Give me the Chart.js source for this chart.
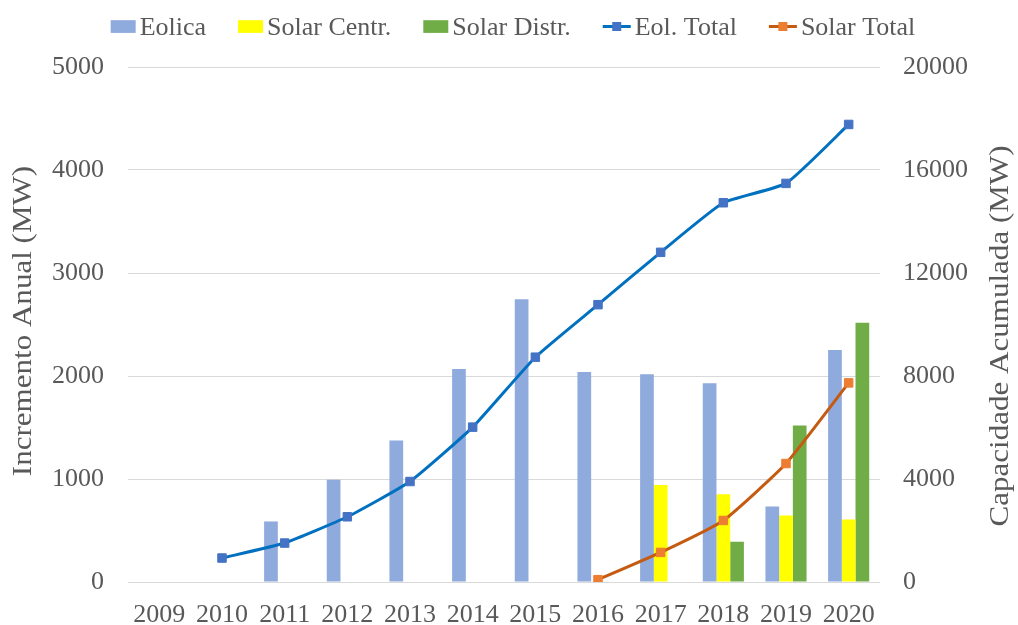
<!DOCTYPE html>
<html>
<head>
<meta charset="utf-8">
<script src="https://cdn.jsdelivr.net/npm/chart.js@4.4.1/dist/chart.umd.min.js"></script>
<style>
html,body{margin:0;padding:0;background:#ffffff;}
#wrap{width:1018px;height:625px;}
</style>
</head>
<body>
<div id="wrap"><canvas id="c" width="1018" height="625"></canvas></div>
<script>
const years = ['2009','2010','2011','2012','2013','2014','2015','2016','2017','2018','2019','2020'];
const eolica      = [null, null, 588, 992, 1373, 2069, 2745, 2040, 2017, 1930, 733, 2253];
const solarCentr  = [null, null, null, null, null, null, null, null, 941, 853, 646, 607];
const solarDistr  = [null, null, null, null, null, null, null, null, null, 391, 1519, 2518];
const eolTotal    = [null, 931, 1513, 2533, 3903, 6014, 8730, 10770, 12803, 14728, 15480, 17769];
const solarTotal  = [null, null, null, null, null, null, null, 89, 1149, 2390, 4601, 7732];
const leftAxis  = {min: 0, max: 5000, step: 1000, title: 'Incremento Anual (MW)'};
const rightAxis = {min: 0, max: 20000, step: 4000, title: 'Capacidade Acumulada (MW)'};

const FONT = '"Liberation Serif", "Times New Roman", serif';
const TXT = '#595959';
Chart.defaults.font.family = FONT;
Chart.defaults.color = TXT;

function drawRotatedTitle(ctx, text, cx, cy) {
  ctx.save();
  ctx.font = '27px ' + FONT;
  ctx.fillStyle = TXT;
  ctx.textAlign = 'center';
  ctx.textBaseline = 'middle';
  ctx.translate(cx, cy);
  ctx.rotate(-Math.PI / 2);
  ctx.scale(1.15, 1);
  ctx.fillText(text, 0, 0);
  ctx.restore();
}

const customLegend = {
  id: 'customLegend',
  afterDraw(chart) {
    const ctx = chart.ctx;
    ctx.save();
    ctx.font = '26px ' + FONT;
    ctx.textBaseline = 'alphabetic';
    ctx.textAlign = 'left';
    const items = chart.data.datasets.map(ds => ({
      ds, w: ds.type === 'line' ? 28 : 25, tw: ctx.measureText(ds.label).width
    }));
    const gapIT = 4, gapItem = 32;
    let total = 0;
    items.forEach((it, i) => { total += it.w + gapIT + it.tw + (i < items.length - 1 ? gapItem : 0); });
    let x = chart.width / 2 + 4 - total / 2;
    const cy = 26.5;
    items.forEach(it => {
      if (it.ds.type === 'line') {
        ctx.strokeStyle = it.ds.borderColor;
        ctx.lineWidth = 3;
        ctx.beginPath(); ctx.moveTo(x, cy); ctx.lineTo(x + it.w, cy); ctx.stroke();
        ctx.fillStyle = it.ds.pointBackgroundColor;
        ctx.fillRect(x + it.w / 2 - 4.5, cy - 4.5, 9, 9);
      } else {
        ctx.fillStyle = it.ds.backgroundColor;
        ctx.fillRect(x, cy - 6.3, it.w, 12.7);
      }
      x += it.w + gapIT;
      ctx.fillStyle = TXT;
      ctx.fillText(it.ds.label, x, 35);
      x += it.tw + gapItem;
    });
    ctx.restore();
    drawRotatedTitle(ctx, leftAxis.title, 24, 321);
    drawRotatedTitle(ctx, rightAxis.title, 1001, 336);
  }
};

new Chart(document.getElementById('c'), {
  type: 'bar',
  data: {
    labels: years,
    datasets: [
      {type: 'bar', label: 'Eolica', data: eolica, backgroundColor: '#8FAADC', yAxisID: 'y', order: 1},
      {type: 'bar', label: 'Solar Centr.', data: solarCentr, backgroundColor: '#FFFF00', yAxisID: 'y', order: 1},
      {type: 'bar', label: 'Solar Distr.', data: solarDistr, backgroundColor: '#70AD47', yAxisID: 'y', order: 1},
      {type: 'line', label: 'Eol. Total', data: eolTotal, borderColor: '#0070C0', borderWidth: 3,
       pointStyle: 'rect', pointRadius: 6, pointBorderWidth: 1, pointBackgroundColor: '#4472C4',
       pointBorderColor: '#4472C4', tension: 0.15, yAxisID: 'y1', order: 0},
      {type: 'line', label: 'Solar Total', data: solarTotal, borderColor: '#C55A11', borderWidth: 3,
       pointStyle: 'rect', pointRadius: 6, pointBorderWidth: 1, pointBackgroundColor: '#ED7D31',
       pointBorderColor: '#ED7D31', tension: 0.15, yAxisID: 'y1', order: 0}
    ]
  },
  options: {
    responsive: false,
    animation: false,
    devicePixelRatio: 1,
    categoryPercentage: 0.656,
    barPercentage: 1,
    layout: {padding: {top: 67, left: 0, right: 0, bottom: 0}},
    plugins: {legend: {display: false}, tooltip: {enabled: false}},
    scales: {
      x: {
        grid: {display: false},
        border: {display: false},
        ticks: {font: {size: 26}, color: TXT, padding: 10, maxRotation: 0, autoSkip: false},
        afterFit(scale) { scale.height = 43; }
      },
      y: {
        position: 'left',
        min: leftAxis.min, max: leftAxis.max,
        ticks: {stepSize: leftAxis.step, font: {size: 26}, color: TXT, padding: 24,
                callback: v => String(v)},
        grid: {color: '#D9D9D9', lineWidth: 1, drawTicks: false},
        border: {display: false},
        afterFit(scale) { scale.width = 128; }
      },
      y1: {
        position: 'right',
        min: rightAxis.min, max: rightAxis.max,
        ticks: {stepSize: rightAxis.step, font: {size: 26}, color: TXT, padding: 23,
                callback: v => String(v)},
        grid: {display: false, drawTicks: false},
        border: {display: false},
        afterFit(scale) { scale.width = 138; }
      }
    }
  },
  plugins: [customLegend]
});
</script>
</body>
</html>
